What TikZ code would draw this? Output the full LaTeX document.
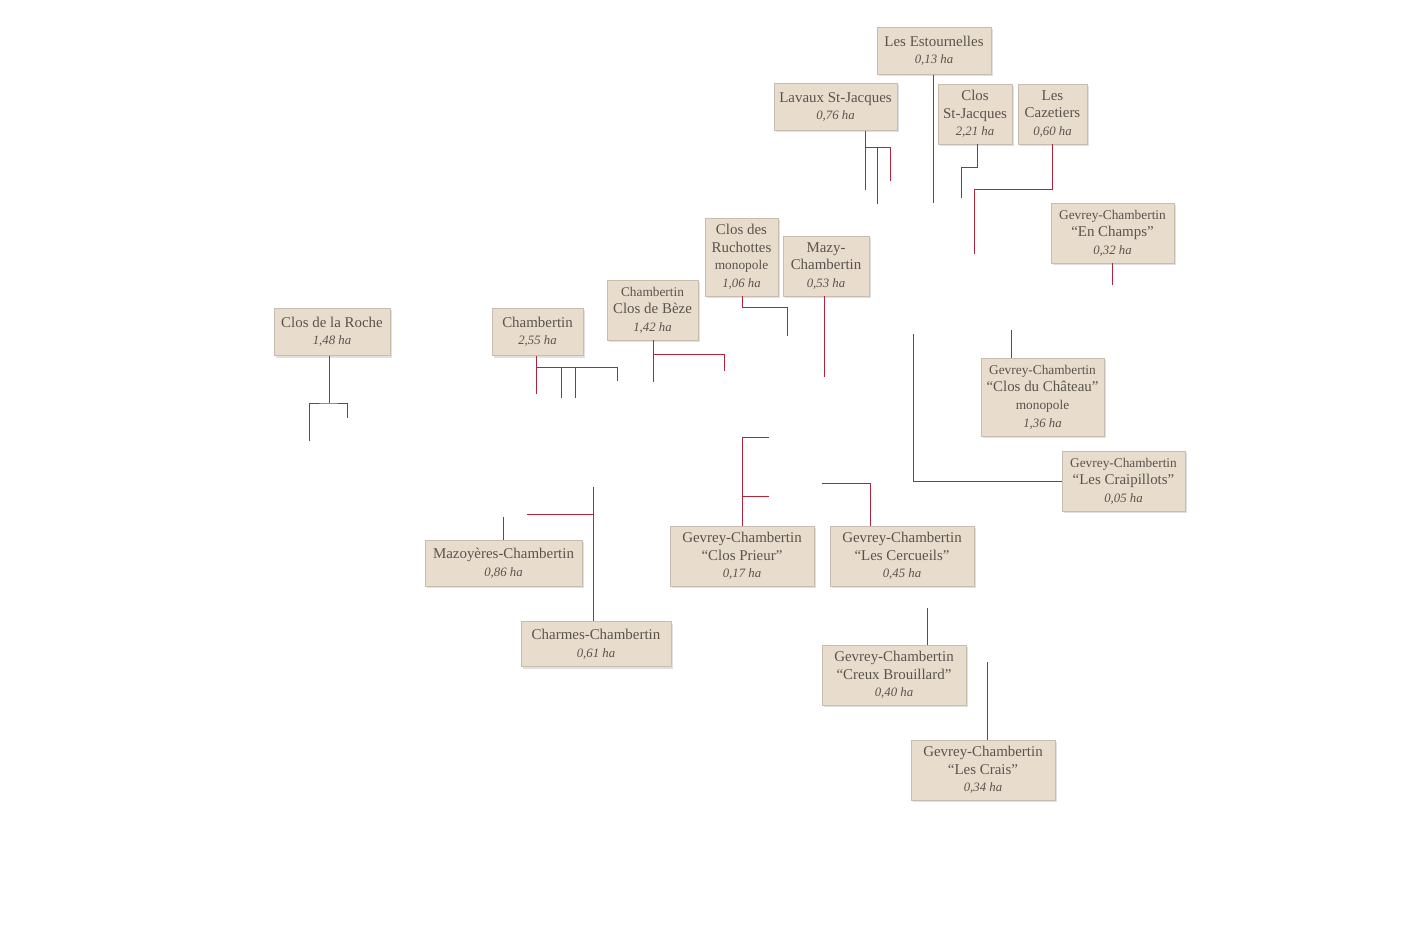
\documentclass[tikz,border=0pt]{standalone}
\usepackage{fontspec}
\setmainfont{Liberation Serif}
\usetikzlibrary{shadows}

\definecolor{boxfill}{HTML}{E8DDCD}
\definecolor{boxline}{HTML}{C6BCAF}
\definecolor{linkred}{HTML}{B3243A}
\definecolor{inkbrown}{HTML}{5A524C}

\newcommand{\area}[1]{\\{\itshape\fontsize{9.6}{13.2}\selectfont #1 ha}}
\newcommand{\minor}[1]{{\fontsize{10}{13.2}\selectfont #1}}

\tikzset{
  plot/.style={draw=boxline, fill=boxfill, line width=0.6pt, text=inkbrown,
    align=center, inner sep=2pt,
    font=\fontsize{11.2}{13.2}\selectfont,
    drop shadow={shadow xshift=1.2pt, shadow yshift=-1.5pt, opacity=0.2, fill=black!60}},
  link/.style={draw=linkred, line width=0.65pt}
}

\begin{document}
\begin{tikzpicture}[x=0.75pt, y=-0.75pt]
  \useasboundingbox (0,0) rectangle (1424,941);

  % parcels
  \node[plot, minimum width=114*0.75pt, minimum height=47*0.75pt] (estournelles) at (934,51) {Les Estournelles\area{0,13}};
  \node[plot, minimum width=123*0.75pt, minimum height=47*0.75pt] (lavaux) at (835.5,107) {Lavaux St-Jacques\area{0,76}};
  \node[plot, minimum width=74*0.75pt, minimum height=60*0.75pt] (closstj) at (975,114) {Clos\\St-Jacques\area{2,21}};
  \node[plot, minimum width=69*0.75pt, minimum height=60*0.75pt] (cazetiers) at (1052.5,114) {Les\\Cazetiers\area{0,60}};
  \node[plot, minimum width=123*0.75pt, minimum height=60*0.75pt] (enchamps) at (1112.5,233) {\minor{Gevrey-Chambertin}\\“En Champs”\area{0,32}};
  \node[plot, minimum width=73*0.75pt, minimum height=78*0.75pt] (ruchottes) at (741.5,257) {Clos des\\Ruchottes\\\minor{monopole}\area{1,06}};
  \node[plot, minimum width=86*0.75pt, minimum height=60*0.75pt] (mazy) at (826,266) {Mazy-\\Chambertin\area{0,53}};
  \node[plot, minimum width=91*0.75pt, minimum height=60*0.75pt] (beze) at (652.5,310) {\minor{Chambertin}\\Clos de Bèze\area{1,42}};
  \node[plot, minimum width=91*0.75pt, minimum height=47*0.75pt] (chambertin) at (537.5,332) {Chambertin\area{2,55}};
  \node[plot, minimum width=116*0.75pt, minimum height=47*0.75pt] (roche) at (332,332) {Clos de la Roche\area{1,48}};
  \node[plot, minimum width=123*0.75pt, minimum height=78*0.75pt] (chateau) at (1042.5,397) {\minor{Gevrey-Chambertin}\\“Clos du Château”\\\minor{monopole}\area{1,36}};
  \node[plot, minimum width=123*0.75pt, minimum height=60*0.75pt] (craipillots) at (1123.5,481) {\minor{Gevrey-Chambertin}\\“Les Craipillots”\area{0,05}};
  \node[plot, minimum width=144*0.75pt, minimum height=60*0.75pt] (prieur) at (742,556) {Gevrey-Chambertin\\“Clos Prieur”\area{0,17}};
  \node[plot, minimum width=144*0.75pt, minimum height=60*0.75pt] (cercueils) at (902,556) {Gevrey-Chambertin\\“Les Cercueils”\area{0,45}};
  \node[plot, minimum width=157*0.75pt, minimum height=46*0.75pt] (mazoyeres) at (503.5,563) {Mazoyères-Chambertin\area{0,86}};
  \node[plot, minimum width=150*0.75pt, minimum height=45*0.75pt] (charmes) at (596,644) {Charmes-Chambertin\area{0,61}};
  \node[plot, minimum width=144*0.75pt, minimum height=60*0.75pt] (creux) at (894,675) {Gevrey-Chambertin\\“Creux Brouillard”\area{0,40}};
  \node[plot, minimum width=144*0.75pt, minimum height=60*0.75pt] (crais) at (983,770) {Gevrey-Chambertin\\“Les Crais”\area{0,34}};

  % free ends of the leader lines
  \coordinate (rJ) at (329,403);   \coordinate (rA) at (309,441);   \coordinate (rB) at (347,418);
  \coordinate (cJ) at (536,367);   \coordinate (cA) at (536,394);   \coordinate (cB) at (561,398);
  \coordinate (cC) at (575,398);   \coordinate (cD) at (617,381);
  \coordinate (bJ) at (653,354);   \coordinate (bA) at (653,382);   \coordinate (bB) at (724,371);
  \coordinate (uJ) at (742,307);   \coordinate (uA) at (787,336);
  \coordinate (mA) at (824,377);
  \coordinate (lJ) at (865,147);   \coordinate (lA) at (865,190);   \coordinate (lB) at (877,204);
  \coordinate (lC) at (890,181);
  \coordinate (eA) at (933,203);
  \coordinate (sJ) at (977,167);   \coordinate (sA) at (961,198);
  \coordinate (zJ) at (1052,189);  \coordinate (zA) at (974,254);
  \coordinate (hA) at (1112,285);
  \coordinate (tA) at (1011,330);
  \coordinate (kA) at (913,334);
  \coordinate (pA) at (769,437);   \coordinate (pB) at (769,496);
  \coordinate (qJ) at (870,483);   \coordinate (qA) at (822,483);
  \coordinate (yA) at (503,517);
  \coordinate (gJ) at (593,514);   \coordinate (gA) at (593,487);   \coordinate (gB) at (527,514);
  \coordinate (wA) at (927,608);
  \coordinate (vA) at (987,662);

  \begin{scope}[link]
    \draw (roche.south -| rJ) -- (rJ);
    \draw (rA) |- (rJ) -| (rB);
    \draw (chambertin.south -| cA) -- (cA);
    \draw (cJ) -| (cD);
    \draw (cB) -- (cB |- cJ);
    \draw (cC) -- (cC |- cJ);
    \draw (beze.south -| bA) -- (bA);
    \draw (bJ) -| (bB);
    \draw (ruchottes.south -| uJ) -- (uJ) -| (uA);
    \draw (mazy.south -| mA) -- (mA);
    \draw (lavaux.south -| lA) -- (lA);
    \draw (lJ) -| (lC);
    \draw (lB) -- (lB |- lJ);
    \draw (estournelles.south -| eA) -- (eA);
    \draw (closstj.south -| sJ) -- (sJ) -| (sA);
    \draw (cazetiers.south -| zJ) -- (zJ) -| (zA);
    \draw (enchamps.south -| hA) -- (hA);
    \draw (chateau.north -| tA) -- (tA);
    \draw (craipillots.west) -| (kA);
    \draw (prieur.north) |- (pA);
    \draw (pB) -- (pB -| prieur.north);
    \draw (cercueils.north -| qJ) |- (qA);
    \draw (mazoyeres.north -| yA) -- (yA);
    \draw (charmes.north -| gA) -- (gA);
    \draw (gB) -- (gJ);
    \draw (creux.north -| wA) -- (wA);
    \draw (crais.north -| vA) -- (vA);
  \end{scope}
\end{tikzpicture}
\end{document}
